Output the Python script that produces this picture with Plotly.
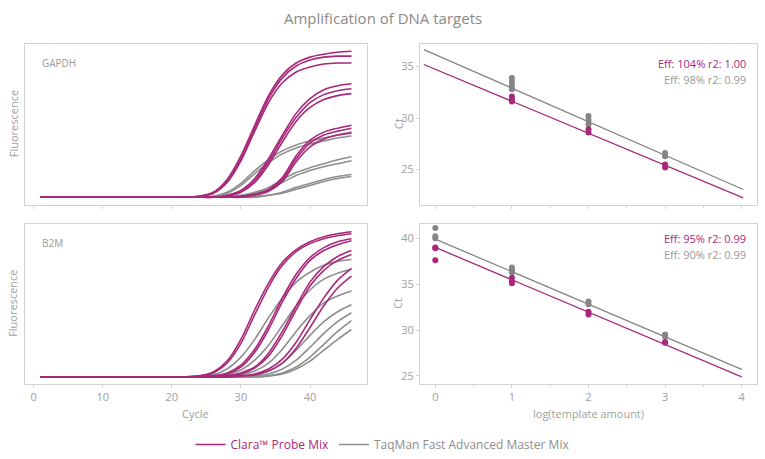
import plotly.graph_objects as go

W, H = 765, 459
PINK = "#A8287A"
GRAY = "#8E8E8E"
TXT = "#A0A0A0"
FONT = "Open Sans"

# ---------------- data ----------------
cycles = [1, 20, 22, 24, 26, 28, 30, 32, 34, 36, 38, 40, 42, 44, 46]

gapdh_clara = [
    [0, 0, 0, 1, 5, 18, 42, 73, 103, 124, 136, 142, 145, 147, 148],
    [0, 0, 0, 1, 4, 16, 39, 70, 100, 121, 133, 139, 142, 143, 143],
    [0, 0, 0, 1, 4, 15, 37, 67, 96, 116, 127, 132, 135, 136, 136],
    [0, 0, 0, 0, 0, 2, 7, 19, 39, 63, 85, 100, 109, 113, 115],
    [0, 0, 0, 0, 0, 2, 6, 17, 36, 60, 81, 96, 104, 108, 110],
    [0, 0, 0, 0, 0, 1, 5, 15, 33, 56, 77, 91, 99, 103, 105],
    [0, 0, 0, 0, 0, 0, 1, 3, 8, 20, 42, 58, 66, 70, 73],
    [0, 0, 0, 0, 0, 0, 1, 3, 7, 18, 39, 55, 63, 67, 70],
    [0, 0, 0, 0, 0, 0, 0, 2, 6, 16, 36, 51, 59, 63, 65],
]
gapdh_taqman = [
    [0, 0, 0, 0, 1, 5, 14, 27, 38, 47, 53, 57, 60, 63, 66],
    [0, 0, 0, 0, 1, 4, 12, 24, 35, 44, 50, 54, 57, 60, 62],
    [0, 0, 0, 0, 0, 0, 2, 5, 10, 18, 25, 30, 34, 38, 41],
    [0, 0, 0, 0, 0, 0, 1, 4, 8, 15, 22, 27, 31, 34, 37],
    [0, 0, 0, 0, 0, 0, 0, 1, 2, 5, 10, 14, 18, 21, 23],
    [0, 0, 0, 0, 0, 0, 0, 0, 2, 4, 8, 12, 16, 19, 21],
]
b2m_clara = [
    [0, 0, 0, 1, 5, 16, 38, 68, 95, 116, 129, 137, 142, 145, 147],
    [0, 0, 0, 1, 4, 14, 34, 63, 91, 113, 127, 135, 140, 143, 145],
    [0, 0, 0, 0, 1, 4, 12, 28, 52, 80, 104, 121, 131, 137, 140],
    [0, 0, 0, 0, 1, 3, 10, 25, 48, 76, 100, 118, 128, 134, 138],
    [0, 0, 0, 0, 0, 1, 4, 10, 24, 46, 72, 96, 112, 122, 128],
    [0, 0, 0, 0, 0, 1, 3, 9, 21, 42, 68, 92, 108, 118, 124],
    [0, 0, 0, 0, 0, 0, 1, 3, 8, 18, 35, 58, 80, 98, 110],
    [0, 0, 0, 0, 0, 0, 1, 2, 6, 14, 29, 50, 72, 90, 102],
]
b2m_taqman = [
    [0, 0, 0, 0, 2, 8, 20, 38, 60, 80, 96, 106, 113, 117, 119],
    [0, 0, 0, 0, 0, 2, 7, 17, 32, 52, 72, 88, 99, 105, 109],
    [0, 0, 0, 0, 0, 0, 2, 6, 14, 28, 46, 62, 75, 82, 87],
    [0, 0, 0, 0, 0, 0, 0, 2, 6, 14, 27, 42, 56, 66, 73],
    [0, 0, 0, 0, 0, 0, 0, 1, 3, 8, 17, 30, 44, 56, 65],
    [0, 0, 0, 0, 0, 0, 0, 0, 1, 4, 10, 20, 33, 46, 57],
    [0, 0, 0, 0, 0, 0, 0, 0, 1, 3, 8, 16, 27, 38, 48],
]

# standard curves (log template amount vs Ct)
gapdh_clara_x = [1, 1, 1, 2, 2, 3, 3]
gapdh_clara_ct = [32.1, 31.8, 31.6, 28.9, 28.6, 25.5, 25.2]
gapdh_taqman_x = [1, 1, 1, 1, 2, 2, 2, 3, 3]
gapdh_taqman_ct = [33.9, 33.5, 33.1, 32.8, 30.2, 29.8, 29.4, 26.6, 26.3]
b2m_clara_x = [0, 0, 0, 1, 1, 1, 2, 2, 3, 3]
b2m_clara_ct = [39.0, 38.9, 37.6, 35.7, 35.3, 35.1, 32.0, 31.7, 28.7, 28.6]
b2m_taqman_x = [0, 0, 0, 1, 1, 1, 2, 2, 3, 3]
b2m_taqman_ct = [41.1, 40.2, 40.0, 36.8, 36.5, 36.3, 33.1, 32.8, 29.5, 29.3]

# fitted lines (endpoints)
gapdh_fit_x = [-0.15, 4.02]
gapdh_clara_fit = [35.2, 22.25]
gapdh_taqman_fit = [36.65, 23.06]
b2m_fit_x = [0, 4]
b2m_clara_fit = [39.0, 24.9]
b2m_taqman_fit = [39.9, 25.7]

labels = ["Eff: 104% r2: 1.00", "Eff: 98% r2: 0.99", "Eff: 95% r2: 0.99", "Eff: 90% r2: 0.99"]
legend_names = ["Clara™ Probe Mix", "TaqMan Fast Advanced Master Mix"]

# ---------------- layout helpers ----------------
def px(x):
    return x / W

def py(y):
    return 1 - y / H

fig = go.Figure()

def add_curves(curves, color, xa, ya, name, show):
    for i, c in enumerate(curves):
        fig.add_trace(go.Scatter(
            x=cycles, y=c, mode="lines", line=dict(color=color, width=1.6, shape="spline", smoothing=0.8),
            xaxis=xa, yaxis=ya, name=name, legendgroup=name,
            showlegend=(show and i == 0), hoverinfo="skip"))

n_clara = f"<span style='color:{PINK}'>{legend_names[0]}</span>"
n_taq = f"<span style='color:{GRAY}'>{legend_names[1]}</span>"

add_curves(gapdh_taqman, GRAY, "x", "y", n_taq, False)
add_curves(gapdh_clara, PINK, "x", "y", n_clara, True)
add_curves(b2m_taqman, GRAY, "x3", "y3", n_taq, True)
add_curves(b2m_clara, PINK, "x3", "y3", n_clara, False)

def add_std(xs, ys, fx, fy, color, xa, ya, name):
    fig.add_trace(go.Scatter(x=fx, y=fy, mode="lines", line=dict(color=color, width=1.3),
                             xaxis=xa, yaxis=ya, showlegend=False, legendgroup=name, hoverinfo="skip"))
    fig.add_trace(go.Scatter(x=xs, y=ys, mode="markers", marker=dict(color=color, size=6, symbol="circle"),
                             xaxis=xa, yaxis=ya, showlegend=False, legendgroup=name, hoverinfo="skip"))

add_std(gapdh_taqman_x, gapdh_taqman_ct, gapdh_fit_x, gapdh_taqman_fit, "#858585", "x2", "y2", n_taq)
add_std(gapdh_clara_x, gapdh_clara_ct, gapdh_fit_x, gapdh_clara_fit, PINK, "x2", "y2", n_clara)
add_std(b2m_taqman_x, b2m_taqman_ct, b2m_fit_x, b2m_taqman_fit, "#858585", "x4", "y4", n_taq)
add_std(b2m_clara_x, b2m_clara_ct, b2m_fit_x, b2m_clara_fit, PINK, "x4", "y4", n_clara)

LC = "#D2D2D2"
common = dict(showline=True, mirror=True, linecolor=LC, linewidth=1, showgrid=False, zeroline=False,
              color=TXT, ticks="outside", ticklen=3, tickcolor=LC,
              tickfont=dict(family=FONT, size=11, color=TXT))

left_dom = [px(25), px(367)]
right_dom = [px(420), px(757)]
top_dom = [py(205), py(44)]
bot_dom = [py(385), py(224)]

fig.update_layout(
    xaxis=dict(domain=left_dom, range=[-1.25, 48.25], tickvals=[0, 10, 20, 30, 40], showticklabels=False, anchor="y", **common),
    yaxis=dict(domain=top_dom, range=[-7.4, 155.4], showticklabels=False, anchor="x",
               **{k: v for k, v in common.items() if k != "ticks"}, ticks=""),
    xaxis2=dict(domain=right_dom, range=[-0.2, 4.2], tickvals=[0, 1, 2, 3, 4], showticklabels=False, anchor="y2",
                minor=dict(ticks="outside", ticklen=2, dtick=0.5, tickcolor=LC), **common),
    yaxis2=dict(domain=top_dom, range=[21.6, 37.2], tickvals=[25, 30, 35], anchor="x2", **common),
    xaxis3=dict(domain=left_dom, range=[-1.25, 48.25], tickvals=[0, 10, 20, 30, 40], anchor="y3", **common),
    yaxis3=dict(domain=bot_dom, range=[-7.4, 155.4], showticklabels=False, anchor="x3",
                **{k: v for k, v in common.items() if k != "ticks"}, ticks=""),
    xaxis4=dict(domain=right_dom, range=[-0.2, 4.2], tickvals=[0, 1, 2, 3, 4], anchor="y4",
                minor=dict(ticks="outside", ticklen=2, dtick=0.5, tickcolor=LC), **common),
    yaxis4=dict(domain=bot_dom, range=[24.1, 41.6], tickvals=[25, 30, 35, 40], anchor="x4", **common),
    width=W, height=H, margin=dict(l=0, r=0, t=0, b=0),
    paper_bgcolor="white", plot_bgcolor="white",
    font=dict(family=FONT, color=TXT),
    showlegend=True,
    legend=dict(orientation="h", x=0.5, xanchor="center", y=py(445), yanchor="middle",
                font=dict(family=FONT, size=12), itemwidth=30, traceorder="normal",
                bgcolor="rgba(0,0,0,0)"),
)

ann = []
def text(x, y, s, size=12, color=TXT, xanchor="center", angle=0):
    ann.append(dict(x=px(x), y=py(y), xref="paper", yref="paper", text=s,
                    showarrow=False, xanchor=xanchor, yanchor="middle", textangle=angle,
                    font=dict(family=FONT, size=size, color=color)))

text(383, 18, "Amplification of DNA targets", size=15, color="#8A8A8A")
text(40, 63, "GAPDH", size=10, color="#999999", xanchor="left")
text(40, 244, "B2M", size=10, color="#999999", xanchor="left")
text(13, 124.5, "Fluorescence", size=11, angle=-90)
text(13, 304.5, "Fluorescence", size=11, angle=-90)
text(398, 124.5, "Ct", size=11, angle=-90)
text(398, 304.5, "Ct", size=11, angle=-90)
text(196, 414, "Cycle", size=11)
text(588, 414, "log(template amount)", size=11)
text(748, 64, labels[0], size=11, color=PINK, xanchor="right")
text(748, 80, labels[1], size=11, color="#999999", xanchor="right")
text(748, 239, labels[2], size=11, color=PINK, xanchor="right")
text(748, 255, labels[3], size=11, color="#999999", xanchor="right")
fig.update_layout(annotations=ann)

fig.write_html("out.html", config={"displayModeBar": False},
               post_script="document.body.style.margin='0';document.body.style.padding='0';")
